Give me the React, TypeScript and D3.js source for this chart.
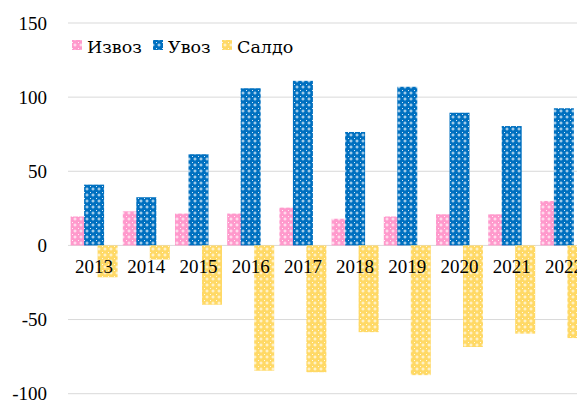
import React, { useEffect, useRef } from 'react';
import * as d3 from 'd3';

const years = ['2013', '2014', '2015', '2016', '2017', '2018', '2019', '2020', '2021', '2022'];
const izvoz = [19.5, 23, 21.5, 21.5, 25.5, 18, 19.5, 21, 21, 30];
const uvoz = [41, 32.5, 61.5, 106, 111, 76.5, 107, 89.5, 80.5, 92.5];
const saldo = [-21.5, -9.5, -40, -84.5, -85.5, -58.5, -87.5, -68.5, -59.5, -62.5];
const seriesNames = ['Извоз', 'Увоз', 'Салдо'];
const seriesColors = ['#ff99cc', '#0070c0', '#ffd966'];
const yTicks = [-100, -50, 0, 50, 100, 150];

const App = () => {
  const ref = useRef<SVGSVGElement>(null);

  useEffect(() => {
    const width = 577;
    const svg = d3.select(ref.current);
    svg.selectAll('*').remove();

    const font = '"Liberation Serif", serif';
    const legendFont = '"DejaVu Serif", serif';

    // hatch-like patterns imitating the Excel fills
    const defs = svg.append('defs');
    seriesColors.forEach((c, i) => {
      const p = defs.append('pattern')
        .attr('id', `pat${i}`)
        .attr('patternUnits', 'userSpaceOnUse')
        .attr('width', 6)
        .attr('height', 6);
      p.append('rect').attr('width', 6).attr('height', 6).attr('fill', c);
      p.append('path')
        .attr('d', 'M3,1.5V4.5M1.5,3H4.5')
        .attr('stroke', '#fff')
        .attr('stroke-width', 1)
        .attr('opacity', 0.85);
      p.append('rect').attr('x', 0).attr('y', 0).attr('width', 1).attr('height', 1).attr('fill', '#fff').attr('opacity', 0.85);
    });

    const x = d3.scaleBand().domain(years).range([68, 68 + 52.2 * years.length]);
    const y = d3.scaleLinear().domain([-100, 150]).range([393.7, 23]);
    const off = d3.scalePoint().domain(seriesNames).range([-13.5, 13.5]);
    const barW = 20;

    // gridlines
    svg.append('g')
      .selectAll('line')
      .data(yTicks)
      .enter().append('line')
      .attr('x1', 68)
      .attr('x2', width)
      .attr('y1', d => y(d))
      .attr('y2', d => y(d))
      .attr('stroke', '#d9d9d9')
      .attr('stroke-width', 1);

    // y labels
    svg.append('g')
      .selectAll('text')
      .data(yTicks)
      .enter().append('text')
      .attr('x', 47)
      .attr('y', d => y(d))
      .attr('dy', '0.35em')
      .attr('text-anchor', 'end')
      .style('font-family', font)
      .style('font-size', '19px')
      .attr('fill', '#000')
      .text(d => d);

    const allSeries = [izvoz, uvoz, saldo];
    allSeries.forEach((vals, si) => {
      svg.append('g')
        .selectAll('rect')
        .data(vals)
        .enter().append('rect')
        .attr('x', (d, i) => x(years[i])! + x.bandwidth() / 2 + off(seriesNames[si])! - barW / 2)
        .attr('y', d => y(Math.max(0, d)))
        .attr('width', barW)
        .attr('height', d => Math.abs(y(d) - y(0)))
        .attr('fill', `url(#pat${si})`);
    });

    // x labels
    svg.append('g')
      .selectAll('text')
      .data(years)
      .enter().append('text')
      .attr('x', d => x(d)! + x.bandwidth() / 2)
      .attr('y', 273)
      .attr('text-anchor', 'middle')
      .style('font-family', font)
      .style('font-size', '19px')
      .attr('fill', '#000')
      .text(d => d);

    // legend
    const legendX = [72, 153, 222];
    seriesNames.forEach((name, i) => {
      svg.append('rect')
        .attr('x', legendX[i])
        .attr('y', 40)
        .attr('width', 10)
        .attr('height', 10)
        .attr('fill', `url(#pat${i})`);
      svg.append('text')
        .attr('x', legendX[i] + 15)
        .attr('y', 53)
        .style('font-family', legendFont)
        .style('font-size', '17.5px')
        .attr('fill', '#000')
        .text(name);
    });
  }, []);

  return (
    <svg ref={ref} width={577} height={403}
      style={{ position: 'absolute', left: 0, top: 0, background: '#fff' }} />
  );
};

export default App;
